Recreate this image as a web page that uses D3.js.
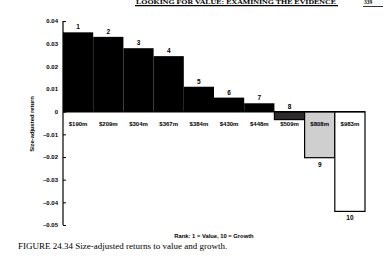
<!DOCTYPE html>
<html>
<head>
<meta charset="utf-8">
<script src="https://cdn.jsdelivr.net/npm/d3@7"></script>
<style>
  body { margin: 0; background: #fff; }
  svg { display: block; }
  .sans { font-family: "Liberation Sans", Arial, sans-serif; font-weight: bold; }
</style>
</head>
<body>
<svg id="chart" width="385" height="261"></svg>
<script>
// rank 1 = value ... 10 = growth
var ranks = [1, 2, 3, 4, 5, 6, 7, 8, 9, 10];
var sizes = ["$190m", "$209m", "$304m", "$367m", "$384m", "$430m", "$448m", "$509m", "$808m", "$983m"];
var returns = [0.035, 0.033, 0.028, 0.0245, 0.011, 0.0062, 0.0037, -0.0035, -0.0203, -0.044];
var yTicks = [0.04, 0.03, 0.02, 0.01, 0, -0.01, -0.02, -0.03, -0.04, -0.05];
var fills = ["#000", "#000", "#000", "#000", "#000", "#000", "#000", "#2a2a2a", "#cfcfcf", "#fff"];

var svg = d3.select("#chart");

var x = d3.scaleBand().domain(ranks).range([63, 365]).padding(0);
var y = d3.scaleLinear().domain([-0.05, 0.04]).range([225, 21]);

/* running page header */
svg.append("text")
    .attr("x", 136).attr("y", 4.2)
    .attr("font-family", "Liberation Serif, serif")
    .attr("font-size", 5.5).attr("font-weight", "bold")
    .attr("textLength", 200).attr("lengthAdjust", "spacingAndGlyphs")
    .text("LOOKING FOR VALUE: EXAMINING THE EVIDENCE");
svg.append("line").attr("x1", 135).attr("x2", 338).attr("y1", 5.6).attr("y2", 5.6)
    .attr("stroke", "#000").attr("stroke-width", 1.4);
svg.append("text")
    .attr("x", 364).attr("y", 4.2)
    .attr("font-family", "Liberation Serif, serif")
    .attr("font-size", 5.5).attr("font-weight", "bold").text("339");
svg.append("line").attr("x1", 363).attr("x2", 383).attr("y1", 6.5).attr("y2", 6.5)
    .attr("stroke", "#000").attr("stroke-width", 0.8);

/* bars */
svg.selectAll("rect.bar")
    .data(ranks)
    .enter().append("rect")
    .attr("class", "bar")
    .attr("x", function(d) { return x(d); })
    .attr("width", x.bandwidth())
    .attr("y", function(d, i) { return y(Math.max(0, returns[i])); })
    .attr("height", function(d, i) { return Math.abs(y(returns[i]) - y(0)); })
    .attr("fill", function(d, i) { return fills[i]; })
    .attr("stroke", function(d, i) { return returns[i] < 0 ? "#000" : "none"; })
    .attr("stroke-width", 1.2);

/* zero line */
svg.append("line")
    .attr("x1", x.range()[0]).attr("x2", x.range()[1])
    .attr("y1", y(0)).attr("y2", y(0))
    .attr("stroke", "#000").attr("stroke-width", 1.5);

/* rank numbers on the bars */
svg.selectAll("text.rank")
    .data(ranks)
    .enter().append("text")
    .attr("class", "rank sans")
    .attr("font-size", 6.5)
    .attr("fill", "#000")
    .attr("text-anchor", "middle")
    .attr("x", function(d) { return x(d) + x.bandwidth() / 2; })
    .attr("y", function(d, i) {
        if (returns[i] > -0.01) return y(Math.max(0, returns[i])) - 3;
        return y(returns[i]) + 9;
    })
    .text(function(d) { return d; });

/* size labels */
svg.selectAll("text.size")
    .data(ranks)
    .enter().append("text")
    .attr("class", "size sans")
    .attr("font-size", 6)
    .attr("text-anchor", "middle")
    .attr("x", function(d) { return x(d) + x.bandwidth() / 2; })
    .attr("y", y(0) + 14)
    .text(function(d, i) { return sizes[i]; });

/* y axis */
var yAxis = d3.axisLeft(y)
    .tickValues(yTicks)
    .tickSize(-3)
    .tickPadding(5)
    .tickFormat(function(d) { return d === 0 ? "0" : d3.format(".2f")(d).replace("\u2212", "\u2013"); });

var ga = svg.append("g")
    .attr("transform", "translate(63,0)")
    .call(yAxis);
ga.select(".domain").attr("stroke-width", 1.2).attr("d", "M0," + y(0.04) + "V" + y(-0.05));
ga.selectAll(".tick line").attr("stroke-width", 1);
ga.selectAll(".tick text")
    .attr("font-size", 6)
    .attr("font-family", "Liberation Sans, Arial, sans-serif")
    .attr("font-weight", "bold");

/* axis titles */
svg.append("text")
    .attr("class", "sans")
    .attr("font-size", 5.8)
    .attr("text-anchor", "middle")
    .attr("transform", "translate(34,124) rotate(-90)")
    .text("Size-adjusted return");

svg.append("text")
    .attr("class", "sans")
    .attr("font-size", 5.8)
    .attr("text-anchor", "middle")
    .attr("x", 214).attr("y", 238)
    .text("Rank: 1 = Value, 10 = Growth");

/* caption */
svg.append("text")
    .attr("x", 18).attr("y", 249)
    .attr("font-family", "Liberation Serif, serif")
    .attr("font-size", 9)
    .text("FIGURE 24.34 Size-adjusted returns to value and growth.");
</script>
</body>
</html>
